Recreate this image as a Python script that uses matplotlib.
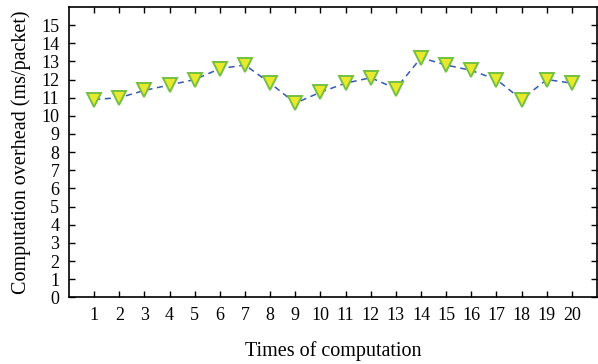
import matplotlib
matplotlib.use('Agg')
import matplotlib.pyplot as plt

# Datos
times = list(range(1, 21))
overhead = [10.9, 11.0, 11.4, 11.7, 12.0, 12.6, 12.8, 11.8, 10.7, 11.3,
            11.8, 12.1, 11.5, 13.2, 12.8, 12.5, 12.0, 10.9, 12.0, 11.8]
y_ticks = list(range(0, 16))

plt.rcParams['font.family'] = ['Liberation Serif', 'DejaVu Serif']

fig = plt.figure(figsize=(5.98, 3.64), dpi=100)
ax = fig.add_axes([0.1154, 0.183, 0.883, 0.798])

ax.plot(times, overhead, linestyle='--', color='#3558b4', linewidth=1.1,
        marker='v', markersize=9.5, markerfacecolor='#e8e82c',
        markeredgecolor='#74c043', markeredgewidth=1.4, dashes=(4, 3))

ax.set_xlim(0, 21)
ax.set_ylim(0, 16)
ax.set_xticks(times)
ax.set_yticks(y_ticks)
ax.tick_params(direction='in', top=True, right=True, length=4, width=1,
               labelsize=13, pad=7)
for s in ax.spines.values():
    s.set_linewidth(1.2)

ax.set_xlabel('Times of computation', fontsize=14.5, labelpad=12)
ax.set_ylabel('Computation overhead (ms/packet)', fontsize=14.5, labelpad=7)

plt.savefig('out.png')
